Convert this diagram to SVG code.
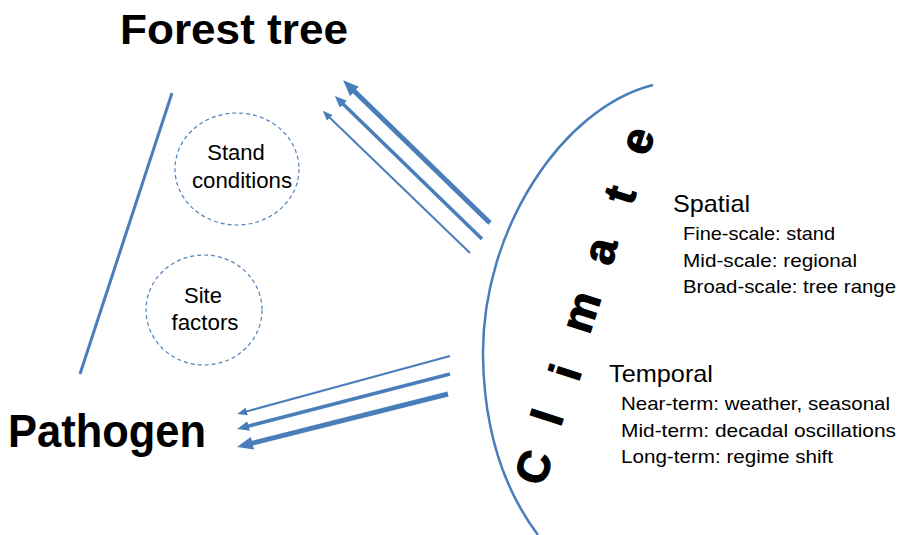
<svg xmlns="http://www.w3.org/2000/svg" width="898" height="535" viewBox="0 0 898 535">
<style>
  .title { font-family: "Liberation Sans", Arial, sans-serif; font-weight: bold; fill: #000; }
  .lbl { font-family: "Liberation Sans", Arial, sans-serif; fill: #000; }
  .big { font-family: "Liberation Sans", Arial, sans-serif; font-weight: bold; font-size: 45px; fill: #000; stroke: #000; stroke-width: 1.2; text-anchor: middle; }
  .ell { fill: none; stroke: #4F81BD; stroke-width: 1.2; stroke-dasharray: 4 3; }
  .ln { fill: none; stroke: #4A7EBB; stroke-linecap: butt; }
</style>
<defs>
  <marker id="hL" viewBox="0 0 10 10" refX="4" refY="5" markerUnits="userSpaceOnUse" markerWidth="16" markerHeight="13" orient="auto" preserveAspectRatio="none">
    <path d="M0,0 L10,5 L0,10 z" fill="#4A7EBB"/>
  </marker>
  <marker id="hM" viewBox="0 0 10 10" refX="4" refY="5" markerUnits="userSpaceOnUse" markerWidth="12" markerHeight="10" orient="auto" preserveAspectRatio="none">
    <path d="M0,0 L10,5 L0,10 z" fill="#4A7EBB"/>
  </marker>
  <marker id="hS" viewBox="0 0 10 10" refX="4" refY="5" markerUnits="userSpaceOnUse" markerWidth="10" markerHeight="8" orient="auto" preserveAspectRatio="none">
    <path d="M0,0 L10,5 L0,10 z" fill="#4A7EBB"/>
  </marker>
</defs>
<rect width="898" height="535" fill="#fff"/>

<g id="forest-tree">
  <text class="title" x="120" y="44" font-size="42" textLength="228" lengthAdjust="spacingAndGlyphs">Forest tree</text>
</g>
<g id="pathogen">
  <text class="title" x="8" y="447" font-size="47" textLength="198" lengthAdjust="spacingAndGlyphs">Pathogen</text>
</g>
<g id="stand-conditions">
  <ellipse class="ell" cx="237" cy="169" rx="62" ry="56"/>
  <text class="lbl" x="236" y="160" font-size="22" text-anchor="middle">Stand</text>
  <text class="lbl" x="242" y="188" font-size="22" text-anchor="middle" textLength="100" lengthAdjust="spacingAndGlyphs">conditions</text>
</g>
<g id="site-factors">
  <ellipse class="ell" cx="204" cy="310" rx="58" ry="55"/>
  <text class="lbl" x="203" y="303" font-size="22" text-anchor="middle">Site</text>
  <text class="lbl" x="205" y="330" font-size="22" text-anchor="middle" textLength="67" lengthAdjust="spacingAndGlyphs">factors</text>
</g>
<g id="climate">
  <path class="ln" stroke-width="2.5" d="M653,85 C562,108 482,230 483,355 C484,440 508,495 538,535"/>
  <text class="big" transform="translate(533,467) rotate(-72)" y="16">C</text>
  <text class="big" transform="translate(547,417) rotate(-72)" y="16">l</text>
  <text class="big" transform="translate(565,372) rotate(-72)" y="16">i</text>
  <text class="big" transform="translate(585,313) rotate(-72)" y="11">m</text>
  <text class="big" transform="translate(604,252) rotate(-76)" y="11">a</text>
  <text class="big" transform="translate(621,195) rotate(-72)" y="14">t</text>
  <text class="big" transform="translate(641,142) rotate(-72)" y="11">e</text>
</g>
<g id="spatial">
  <text class="lbl" x="673" y="212" font-size="24" textLength="77" lengthAdjust="spacingAndGlyphs">Spatial</text>
  <text class="lbl" x="683" y="240" font-size="19" textLength="152" lengthAdjust="spacingAndGlyphs">Fine-scale: stand</text>
  <text class="lbl" x="683" y="267" font-size="19" textLength="174" lengthAdjust="spacingAndGlyphs">Mid-scale: regional</text>
  <text class="lbl" x="683" y="293" font-size="19" textLength="213" lengthAdjust="spacingAndGlyphs">Broad-scale: tree range</text>
</g>
<g id="temporal">
  <text class="lbl" x="609" y="382" font-size="24" textLength="104" lengthAdjust="spacingAndGlyphs">Temporal</text>
  <text class="lbl" x="621" y="410" font-size="19" textLength="269" lengthAdjust="spacingAndGlyphs">Near-term: weather, seasonal</text>
  <text class="lbl" x="621" y="437" font-size="19" textLength="275" lengthAdjust="spacingAndGlyphs">Mid-term: decadal oscillations</text>
  <text class="lbl" x="621" y="463" font-size="19" textLength="212" lengthAdjust="spacingAndGlyphs">Long-term: regime shift</text>
</g>
<g id="connectors">
  <line class="ln" stroke-width="3" x1="172" y1="93" x2="80" y2="374"/>
  <line class="ln" stroke-width="5" x1="490" y1="223" x2="350" y2="87" marker-end="url(#hL)"/>
  <line class="ln" stroke-width="3.5" x1="482" y1="239" x2="340" y2="101" marker-end="url(#hM)"/>
  <line class="ln" stroke-width="2" x1="470" y1="253" x2="327" y2="115" marker-end="url(#hS)"/>
  <line class="ln" stroke-width="2" x1="450" y1="356" x2="243" y2="412.4" marker-end="url(#hS)"/>
  <line class="ln" stroke-width="3.5" x1="450" y1="374" x2="244" y2="427.2" marker-end="url(#hM)"/>
  <line class="ln" stroke-width="5" x1="448" y1="394" x2="246.3" y2="444.7" marker-end="url(#hL)"/>
</g>
</svg>
